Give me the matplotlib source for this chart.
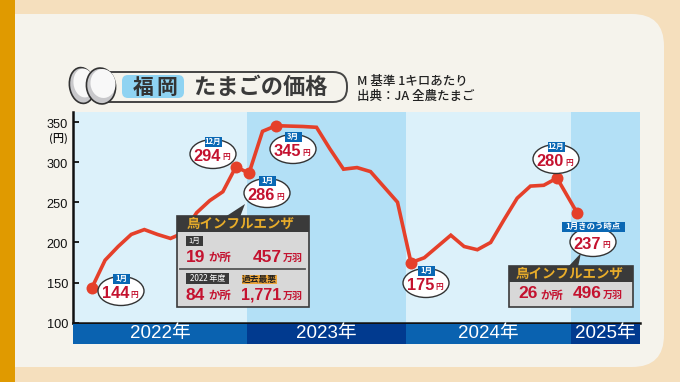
import numpy as np
import matplotlib
matplotlib.use("Agg")
import matplotlib.pyplot as plt
from matplotlib.patches import Ellipse, Rectangle, FancyBboxPatch, Polygon

plt.rcParams['font.family'] = ['Noto Sans CJK JP', 'DejaVu Sans']
LATIN = ['Liberation Sans', 'Noto Sans CJK JP']

prices = [144, 178, 195, 210, 216, 210, 205, 212, 237, 252, 263, 294,
          286, 338, 345, 344.5, 344, 343, 316, 291, 293, 288, 269, 250,
          175, 181, 195, 209, 195, 191, 200, 228, 255, 270, 271, 280,
          237]
months = np.arange(len(prices))
highlight = [0, 11, 12, 14, 24, 35, 36]
yticks = [100, 150, 200, 250, 300, 350]
years = ["2022年", "2023年", "2024年", "2025年"]
year_edges = [-1.45, 11.85, 23.65, 35.7, 39.0]
band_light = "#DCF1FA"
band_dark = "#B3E0F6"

W, H = 680, 382
fig = plt.figure(figsize=(W / 100, H / 100), dpi=100, facecolor="#F5DFBD")

# pixel layer for the frame, behind the chart
bg = fig.add_axes([0, 0, 1, 1], zorder=0)
bg.set_xlim(0, W)
bg.set_ylim(H, 0)
bg.axis("off")
bg.add_patch(FancyBboxPatch((-60, 14), 724, 353, boxstyle="round,pad=0,rounding_size=32", fc="#F5F3EC", ec="none"))
bg.add_patch(Rectangle((0, 0), 15, H, fc="#E09A00", ec="none"))

# month axis is piecewise, the months are not evenly spread in the original
px_m = [-1.45, 0, 12, 24, 35, 36, 39.0]
px_x = [73, 92, 249, 411, 557, 577, 640]

ax = fig.add_axes([73 / W, 1 - 323 / H, 567 / W, 211 / H], zorder=1)
ax.set_xscale('function', functions=(lambda m: np.interp(m, px_m, px_x),
                                     lambda p: np.interp(p, px_x, px_m)))
ax.set_xlim(-1.45, 39.0)
ax.set_ylim(100, 362)
for i in range(4):
    ax.axvspan(year_edges[i], year_edges[i + 1], color=band_dark if i % 2 else band_light, lw=0)
ax.plot(months, prices, color="#E5402A", lw=2.6, solid_joinstyle="miter", zorder=3)
ax.plot(months[highlight], np.array(prices)[highlight], "o", color="#E5402A", ms=8.6, mew=0, zorder=4)
ax.set_xticks([])
ax.set_yticks(yticks)
ax.set_yticklabels([])
ax.tick_params(axis="y", direction="in", length=4, width=1.3, color="#111111")
for s in ["top", "right"]:
    ax.spines[s].set_visible(False)
for s in ["left", "bottom"]:
    ax.spines[s].set_linewidth(1.8)
    ax.spines[s].set_color("#111111")

# pixel layer for the labels
ov = fig.add_axes([0, 0, 1, 1], zorder=2)
ov.set_xlim(0, W)
ov.set_ylim(H, 0)
ov.axis("off")
ov.patch.set_alpha(0)

for t in yticks:
    py = 323 - (t - 100) * 0.804
    ov.text(68, py + 2.5, str(t), ha="right", va="center", fontsize=9.2, color="#111111", family=LATIN)
ov.text(68, 138, "(円)", ha="right", va="center", fontsize=8, color="#111111", fontweight="medium")

# year strip
edges_px = [73, 247, 406, 571, 640]
for i, y in enumerate(years):
    ov.add_patch(Rectangle((edges_px[i], 324), edges_px[i + 1] - edges_px[i], 20,
                           fc="#013A8F" if i % 2 else "#0A62B0", ec="none"))
    ov.text((edges_px[i] + edges_px[i + 1]) / 2, 333.5, y, ha="center", va="center",
            fontsize=13.5, color="white", family=LATIN)

# title
ov.add_patch(FancyBboxPatch((92, 72), 255, 30, boxstyle="round,pad=0,rounding_size=14",
                            fc="#F5F3EC", ec="#444444", lw=1.4))
for cx, cy, w in [(82, 85.5, 25), (101, 86, 29)]:
    ov.add_patch(Ellipse((cx, cy), w, 36, angle=-8, fc="#C8C8CB", ec="#333333", lw=1.2))
    ov.add_patch(Ellipse((cx + 2, cy - 2.5), w - 4, 29, angle=-8, fc="#F8F8F8", ec="none"))
ov.add_patch(FancyBboxPatch((122, 75), 62, 23, boxstyle="round,pad=0,rounding_size=6",
                            fc="#8FD3F2", ec="none"))
ov.text(143, 87, "福", ha="center", va="center", fontsize=15, fontweight="bold", color="#333333")
ov.text(167, 87, "岡", ha="center", va="center", fontsize=15, fontweight="bold", color="#333333")
ov.text(261, 87, "たまごの価格", ha="center", va="center", fontsize=16, fontweight="bold", color="#3A3A3A")
ov.text(357, 82, "M 基準 1キロあたり", ha="left", va="center", fontsize=9, fontweight="medium", color="#222222")
ov.text(357, 96, "出典：JA 全農たまご", ha="left", va="center", fontsize=9, fontweight="medium", color="#222222")

RED = "#C4122F"


def callout(cx, cy, tag, value, tag_w=17, tag_dy=17):
    ov.add_patch(Ellipse((cx, cy), 46, 29, fc="white", ec="#333333", lw=1.0, zorder=3))
    ov.add_patch(Rectangle((cx - tag_w / 2, cy - tag_dy), tag_w, 9.5, fc="#0A68B4", ec="none", zorder=4))
    ov.text(cx, cy - tag_dy + 4.7, tag, ha="center", va="center", fontsize=6 if tag_w > 20 else 5.5,
            color="white", fontweight="bold", zorder=5)
    ov.text(cx + 8, cy + 2.5, str(value), ha="right", va="center", fontsize=11.8, color=RED,
            fontweight="bold", family=LATIN, zorder=5)
    ov.text(cx + 9, cy + 3, "円", ha="left", va="center", fontsize=5.5, color=RED, fontweight="bold", zorder=5)


callout(213, 154, "12月", 294)
callout(267, 193, "1月", 286)
callout(293, 149, "3月", 345)
callout(121, 291, "1月", 144)
callout(426, 283, "1月", 175)
callout(556, 159, "12月", 280)
callout(593, 242, "1月きのう時点", 237, tag_w=63, tag_dy=20)

# flu boxes
DARK = "#3A3A3A"
GOLD = "#E8AC2A"


def bignum(x, y, s, ha="left", size=12.5):
    ov.text(x, y, s, ha=ha, va="center", fontsize=size, fontweight="bold", family=LATIN, color=RED, zorder=5)


def unit(x, y, s, size=8.2):
    ov.text(x, y, s, ha="left", va="center", fontsize=size, fontweight="bold", color=RED, zorder=5)


ov.add_patch(Polygon([[225, 217], [240, 217], [245, 204]], fc=DARK, ec="none", zorder=2))
ov.add_patch(Rectangle((177, 216), 132, 91, fc="#D8D8D8", ec=DARK, lw=1.2, zorder=3))
ov.add_patch(Rectangle((177, 216), 132, 16, fc=DARK, ec="none", zorder=3))
ov.text(241, 224, "鳥インフルエンザ", ha="center", va="center", fontsize=9.7, fontweight="bold", color=GOLD, zorder=5)
ov.add_patch(Rectangle((186, 236), 17, 10, fc=DARK, ec="none", zorder=4))
ov.text(194.5, 241, "1月", ha="center", va="center", fontsize=5.5, color="white", zorder=5)
bignum(186, 257, "19")
unit(208, 258, "か所")
bignum(282, 257, "457", ha="right")
unit(283, 258, "万羽", size=7.2)
ov.plot([180, 305], [269, 269], color="#555555", lw=1.3, zorder=5)
ov.add_patch(Rectangle((186, 273), 43, 10.5, fc=DARK, ec="none", zorder=4))
ov.text(207.5, 278, "2022 年度", ha="center", va="center", fontsize=5.8, color="white", zorder=5)
ov.add_patch(Rectangle((242, 275), 35, 9, fc="#EDA63A", ec="none", zorder=4))
ov.text(259.5, 279.5, "過去最悪", ha="center", va="center", fontsize=6.3, fontweight="bold", color="#222222", zorder=5)
bignum(185, 295, "84")
unit(208, 296, "か所")
bignum(281, 295, "1,771", ha="right", size=11.5)
unit(283, 296, "万羽", size=7.2)

ov.add_patch(Polygon([[568, 267], [578, 267], [581, 253]], fc=DARK, ec="none", zorder=2))
ov.add_patch(Rectangle((509, 266), 124, 41, fc="#D8D8D8", ec=DARK, lw=1.2, zorder=3))
ov.add_patch(Rectangle((509, 266), 124, 16, fc=DARK, ec="none", zorder=3))
ov.text(570, 274, "鳥インフルエンザ", ha="center", va="center", fontsize=9.7, fontweight="bold", color=GOLD, zorder=5)
bignum(518, 294, "26")
unit(540, 295, "か所")
bignum(602, 294, "496", ha="right")
unit(603, 295, "万羽", size=7.2)

fig.savefig("out.png", dpi=100, facecolor=fig.get_facecolor())
